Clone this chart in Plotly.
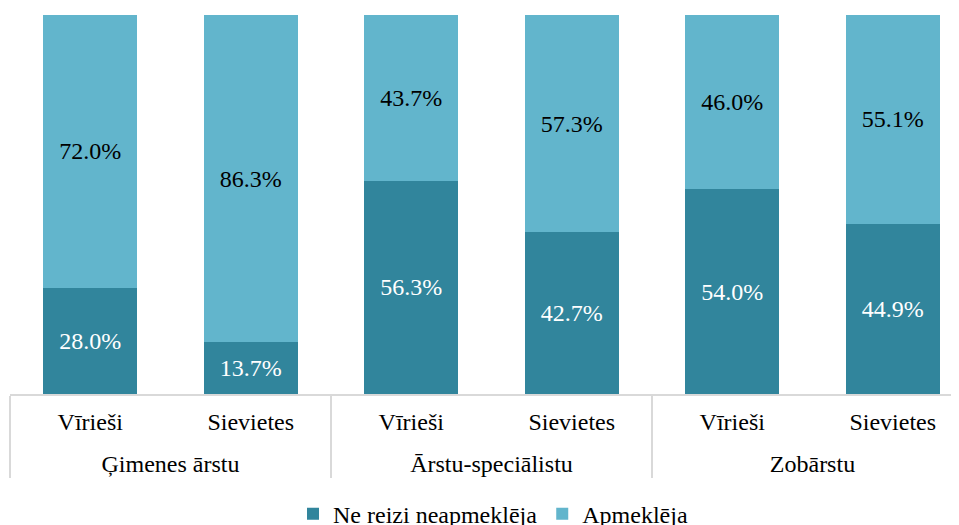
import plotly.graph_objects as go

# categories
groups = ["Ģimenes ārstu", "Ģimenes ārstu", "Ārstu-speciālistu", "Ārstu-speciālistu", "Zobārstu", "Zobārstu"]
genders = ["Vīrieši", "Sievietes", "Vīrieši", "Sievietes", "Vīrieši", "Sievietes"]

# shares, %
ne_reizi = [28.0, 13.7, 56.3, 42.7, 54.0, 44.9]
apmekleja = [72.0, 86.3, 43.7, 57.3, 46.0, 55.1]

font_name = "Liberation Serif"

# tick font is smaller (sets line spacing), labels themselves are drawn at 24px;
# a blank second line under the lower labels pushes the group row down a bit
big = "<span style='font-size:24px'>{}</span>"
x_cats = [[big.format(g) for g in groups],
          [big.format(g) + "<br><span style='font-size:12px'> </span>" for g in genders]]

fig = go.Figure()
# dark part at the bottom
fig.add_trace(go.Bar(x=x_cats, y=ne_reizi, name="Ne reizi neapmeklēja",
                     marker=dict(color="#31859C", line=dict(width=0)),
                     text=[f"{v:.1f}%" for v in ne_reizi],
                     textposition="inside", insidetextanchor="middle",
                     textfont=dict(color="white", size=24, family=font_name)))
# light part on top
fig.add_trace(go.Bar(x=x_cats, y=apmekleja, name="Apmeklēja",
                     marker=dict(color="#62B5CC", line=dict(width=0)),
                     text=[f"{v:.1f}%" for v in apmekleja],
                     textposition="inside", insidetextanchor="middle",
                     textfont=dict(color="black", size=24, family=font_name)))

# page body has an 8px margin, so the figure is a bit smaller than the window
fig.update_layout(
    barmode="stack",
    bargap=0.414,
    width=951, height=517,
    margin=dict(l=2, r=0, t=7, b=131, autoexpand=False),
    plot_bgcolor="white", paper_bgcolor="white",
    font=dict(family=font_name, size=24, color="black"),
    uniformtext=dict(minsize=24, mode="show"),
    legend=dict(orientation="h", xref="container", yref="container",
                x=0.51, xanchor="center", y=0.021, yanchor="middle",
                font=dict(size=24, family=font_name), traceorder="normal"),
    showlegend=True,
)
fig.update_xaxes(type="multicategory", range=[-0.5, 5.413], automargin=False,
                 showline=True, linecolor="#d9d9d9", linewidth=2,
                 showdividers=True, dividercolor="#d9d9d9", dividerwidth=2,
                 ticks="", ticklabelstandoff=10,
                 tickfont=dict(size=20, family=font_name))
fig.update_yaxes(range=[0, 100], visible=False, showgrid=False)

fig.write_html("out.html")
